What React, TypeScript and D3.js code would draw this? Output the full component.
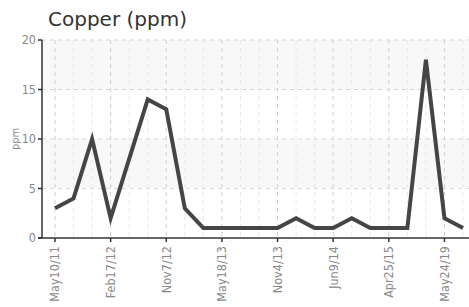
import React from "react";
import * as d3 from "d3";

const values: number[] = [3, 4, 10, 2, 8, 14, 13, 3, 1, 1, 1, 1, 1, 2, 1, 1, 2, 1, 1, 1, 18, 2, 1];
const tickIndices: number[] = [0, 3, 6, 9, 12, 15, 18, 21];
const tickLabels: string[] = ["May10/11", "Feb17/12", "Nov7/12", "May18/13", "Nov4/13", "Jun9/14", "Apr25/15", "May24/19"];
const yTicks: number[] = [0, 5, 10, 15, 20];
const title = "Copper (ppm)";
const yLabel = "ppm";

const W = 469, H = 307;
const left = 42, right = 469, top = 40, bottom = 238;

export default function App() {
  const idx = values.map((_, i) => i);
  const x = d3.scaleLinear().domain([0, values.length - 1]).range([55, 463]);
  const y = d3.scaleLinear().domain([0, 20]).range([bottom, top]);
  const line = d3.line<number>().x((_, i) => x(i)).y((d) => y(d));
  const bands = [[15, 20], [5, 10]];
  const tickFont = "'DejaVu Sans Condensed', 'Liberation Sans Narrow', sans-serif";
  return (
    <svg width={W} height={H} style={{ position: "absolute", left: 0, top: 0, background: "#fff" }}>
      <rect x={0} y={0} width={W} height={H} fill="#fff" />
      {bands.map(([a, b], i) => (
        <rect key={i} x={left} y={y(b)} width={right - left} height={y(a) - y(b)} fill="#f8f8f8" />
      ))}
      {idx.map((i) => (
        <line key={"v" + i} x1={x(i)} x2={x(i)} y1={top} y2={bottom}
          stroke={tickIndices.includes(i) ? "#d0d0d0" : "#e8e8e8"} strokeDasharray="4,4" />
      ))}
      {yTicks.filter((t) => t > 0).map((t) => (
        <line key={"h" + t} x1={left} x2={right} y1={y(t)} y2={y(t)} stroke="#d8d8d8" strokeDasharray="4,4" />
      ))}
      <path d={line(values) || ""} fill="none" stroke="#454545" strokeWidth={4} strokeLinejoin="miter" />
      <line x1={left} x2={left} y1={top} y2={bottom} stroke="#333" strokeWidth={1.5} />
      <line x1={left - 4} x2={right} y1={bottom} y2={bottom} stroke="#333" strokeWidth={1.5} />
      {yTicks.map((t) => (
        <g key={"yt" + t}>
          <line x1={left - 4} x2={left} y1={y(t)} y2={y(t)} stroke="#333" strokeWidth={1.5} />
          <text x={left - 6} y={y(t)} dy="0.35em" textAnchor="end" fontSize={12.5} fill="#888" fontFamily={tickFont}>{t}</text>
        </g>
      ))}
      {tickIndices.map((ti, k) => (
        <g key={"xt" + ti}>
          <line x1={x(ti)} x2={x(ti)} y1={bottom} y2={bottom + 4} stroke="#333" strokeWidth={1.5} />
          <text transform={`translate(${x(ti)},${bottom + 8}) rotate(-90)`} dy="0.35em" textAnchor="end" fontSize={12.5} fill="#888" fontFamily={tickFont}>{tickLabels[k]}</text>
        </g>
      ))}
      <text transform={`translate(15,${(top + bottom) / 2}) rotate(-90)`} textAnchor="middle" dy="0.35em" fontSize={11} fill="#888" fontFamily={tickFont}>{yLabel}</text>
      <text x={48} y={26} fontSize={20} fill="#333" fontFamily="'DejaVu Sans', Verdana, sans-serif">{title}</text>
    </svg>
  );
}
